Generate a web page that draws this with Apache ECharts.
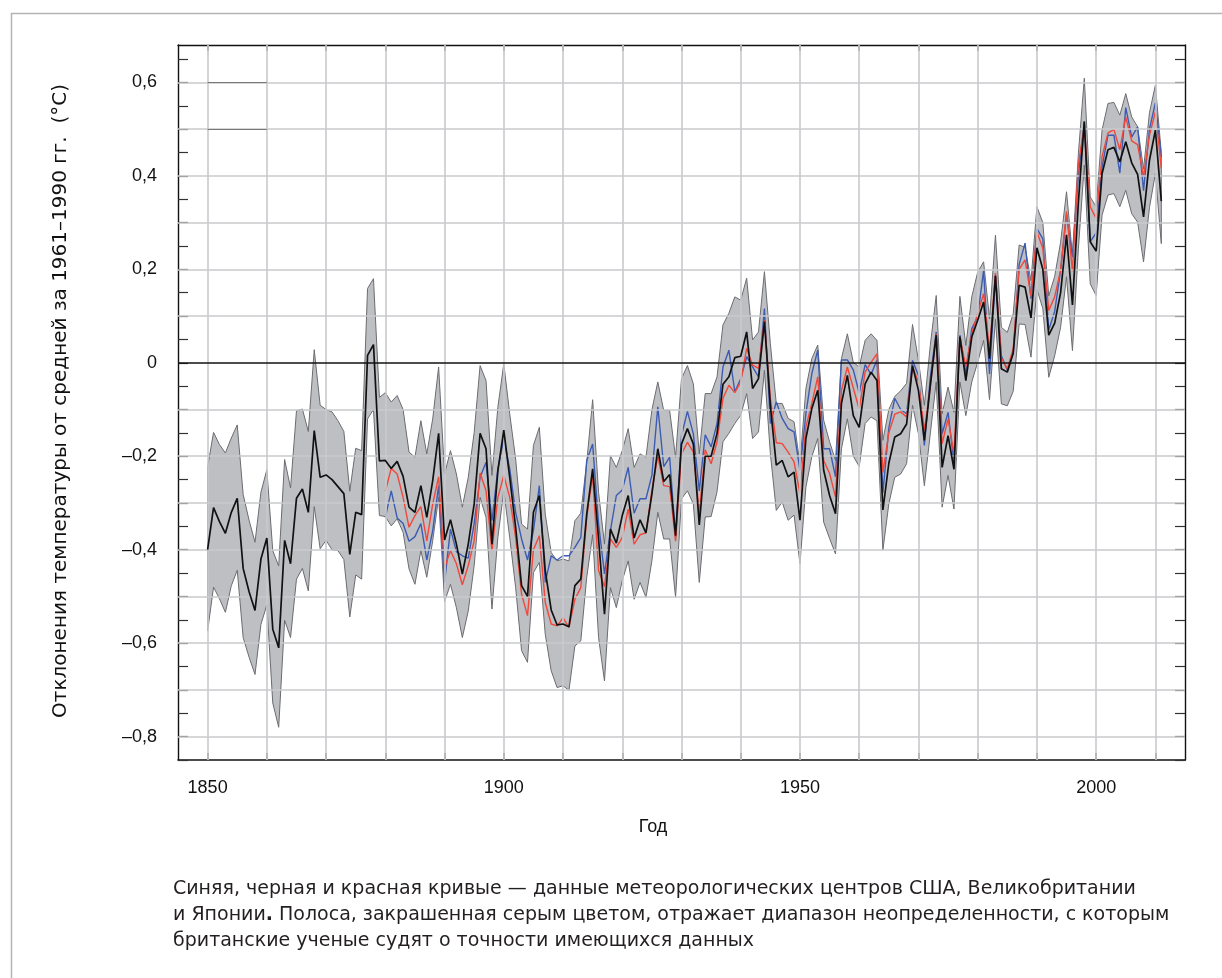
<!DOCTYPE html>
<html>
<head>
<meta charset="utf-8">
<script src="https://cdn.jsdelivr.net/npm/echarts@6/dist/echarts.min.js"></script>
<style>
html,body{margin:0;padding:0;background:#fff;}
#chart{width:1222px;height:978px;}
</style>
</head>
<body>
<div id="chart"></div>
<script>
// ---------- DATA ----------
const startYear = 1850;      // first year of UK (black) series and band
const jpUsStartYear = 1880;  // first year of red and blue series

// UK (black) anomaly, 1850–2011
const ukBlack = [
-0.40,-0.31,-0.34,-0.365,-0.32,-0.29,-0.44,-0.49,-0.53,-0.42,
-0.375,-0.57,-0.61,-0.38,-0.43,-0.29,-0.27,-0.32,-0.145,-0.245,
-0.24,-0.25,-0.265,-0.28,-0.41,-0.32,-0.325,0.016,0.039,-0.21,
-0.209,-0.226,-0.211,-0.243,-0.309,-0.32,-0.263,-0.331,-0.252,-0.151,
-0.379,-0.336,-0.388,-0.452,-0.388,-0.302,-0.151,-0.184,-0.388,-0.231,
-0.144,-0.245,-0.352,-0.477,-0.50,-0.32,-0.284,-0.445,-0.529,-0.561,
-0.559,-0.565,-0.477,-0.463,-0.324,-0.227,-0.377,-0.538,-0.356,-0.386,
-0.327,-0.284,-0.375,-0.336,-0.364,-0.281,-0.184,-0.254,-0.239,-0.37,
-0.174,-0.141,-0.174,-0.347,-0.20,-0.20,-0.151,-0.046,-0.03,0.011,
0.014,0.066,-0.055,-0.034,0.088,-0.091,-0.219,-0.209,-0.244,-0.234,
-0.337,-0.162,-0.098,-0.059,-0.23,-0.284,-0.323,-0.087,-0.027,-0.113,
-0.138,-0.045,-0.02,-0.038,-0.315,-0.215,-0.159,-0.152,-0.131,-0.006,
-0.059,-0.166,-0.049,0.059,-0.224,-0.156,-0.228,0.056,-0.038,0.055,
0.091,0.13,0.009,0.186,-0.013,-0.02,0.021,0.166,0.162,0.096,
0.246,0.20,0.059,0.085,0.15,0.274,0.124,0.344,0.516,0.259,
0.239,0.405,0.456,0.461,0.43,0.473,0.428,0.403,0.312,0.433,
0.498,0.346
];

// Uncertainty band (upper edge), 1850–2011
const bandHigh = [
-0.223,-0.149,-0.175,-0.193,-0.161,-0.133,-0.282,-0.337,-0.384,-0.277,
-0.229,-0.402,-0.435,-0.207,-0.268,-0.103,-0.099,-0.147,0.028,-0.091,
-0.10,-0.105,-0.124,-0.147,-0.275,-0.183,-0.188,0.159,0.18,-0.074,
-0.064,-0.084,-0.07,-0.10,-0.191,-0.202,-0.124,-0.195,-0.12,-0.009,
-0.238,-0.188,-0.238,-0.309,-0.245,-0.149,-0.006,-0.038,-0.241,-0.095,
-0.002,-0.109,-0.206,-0.345,-0.356,-0.177,-0.138,-0.324,-0.406,-0.424,
-0.42,-0.424,-0.338,-0.322,-0.213,-0.079,-0.277,-0.388,-0.199,-0.224,
-0.188,-0.141,-0.224,-0.195,-0.202,-0.101,-0.041,-0.102,-0.102,-0.202,
-0.034,-0.006,-0.045,-0.195,-0.066,-0.066,-0.03,0.081,0.106,0.141,
0.134,0.181,0.049,0.066,0.195,0.041,-0.087,-0.087,-0.119,-0.126,
-0.216,-0.055,0.009,0.038,-0.123,-0.169,-0.209,0.009,0.062,0.001,
-0.009,0.048,0.062,0.048,-0.166,-0.10,-0.072,-0.06,-0.044,0.082,
0.005,-0.091,0.037,0.144,-0.109,-0.052,-0.106,0.142,0.037,0.141,
0.194,0.216,0.094,0.273,0.076,0.065,0.105,0.252,0.247,0.176,
0.334,0.30,0.143,0.185,0.258,0.366,0.23,0.448,0.609,0.355,
0.334,0.498,0.555,0.557,0.53,0.576,0.526,0.505,0.415,0.535,
0.594,0.45
];

// Uncertainty band (lower edge), 1850–2011
const bandLow = [
-0.574,-0.48,-0.505,-0.534,-0.477,-0.444,-0.588,-0.63,-0.667,-0.56,
-0.518,-0.728,-0.78,-0.551,-0.588,-0.463,-0.44,-0.488,-0.308,-0.398,
-0.38,-0.40,-0.402,-0.421,-0.544,-0.454,-0.463,-0.12,-0.10,-0.327,
-0.329,-0.349,-0.334,-0.363,-0.441,-0.474,-0.402,-0.459,-0.381,-0.288,
-0.511,-0.474,-0.524,-0.588,-0.531,-0.434,-0.288,-0.331,-0.527,-0.374,
-0.274,-0.374,-0.481,-0.616,-0.641,-0.449,-0.427,-0.581,-0.659,-0.695,
-0.691,-0.701,-0.606,-0.595,-0.459,-0.368,-0.588,-0.681,-0.481,-0.524,
-0.466,-0.424,-0.506,-0.47,-0.502,-0.424,-0.32,-0.377,-0.377,-0.502,
-0.291,-0.274,-0.302,-0.47,-0.33,-0.329,-0.276,-0.169,-0.151,-0.13,
-0.112,-0.066,-0.162,-0.148,-0.016,-0.194,-0.316,-0.298,-0.337,-0.326,
-0.43,-0.266,-0.201,-0.162,-0.341,-0.376,-0.409,-0.184,-0.12,-0.20,
-0.222,-0.13,-0.116,-0.124,-0.401,-0.302,-0.245,-0.238,-0.216,-0.091,
-0.152,-0.263,-0.152,-0.041,-0.309,-0.241,-0.313,-0.041,-0.113,-0.041,
0.001,0.048,-0.079,0.093,-0.088,-0.092,-0.061,0.083,0.082,0.012,
0.157,0.116,-0.031,0.015,0.076,0.184,0.026,0.244,0.423,0.169,
0.144,0.316,0.359,0.362,0.334,0.369,0.319,0.301,0.216,0.332,
0.405,0.255
];

// Japan (red) anomaly, 1880–2011
const jpRed = [
-0.275,-0.226,-0.238,-0.288,-0.352,-0.327,-0.308,-0.381,-0.302,-0.244,
-0.438,-0.402,-0.43,-0.475,-0.434,-0.381,-0.236,-0.274,-0.402,-0.288,
-0.241,-0.288,-0.374,-0.495,-0.541,-0.40,-0.37,-0.513,-0.559,-0.563,
-0.546,-0.566,-0.506,-0.481,-0.331,-0.241,-0.445,-0.479,-0.377,-0.395,
-0.374,-0.313,-0.388,-0.368,-0.364,-0.274,-0.199,-0.263,-0.265,-0.382,
-0.195,-0.17,-0.191,-0.322,-0.186,-0.216,-0.169,-0.076,-0.048,-0.064,
-0.041,0.031,-0.005,-0.012,0.091,-0.076,-0.171,-0.173,-0.191,-0.212,
-0.28,-0.137,-0.087,-0.03,-0.209,-0.237,-0.287,-0.059,-0.009,-0.054,
-0.099,-0.02,0.001,0.019,-0.235,-0.15,-0.11,-0.105,-0.116,-0.009,
-0.041,-0.145,-0.052,0.062,-0.173,-0.12,-0.195,0.055,-0.009,0.062,
0.105,0.148,0.026,0.192,0.01,-0.013,0.03,0.20,0.22,0.142,
0.28,0.245,0.112,0.141,0.198,0.324,0.196,0.426,0.505,0.334,
0.309,0.441,0.492,0.499,0.456,0.526,0.475,0.467,0.398,0.487,
0.537,0.416
];

// USA (blue) anomaly, 1880–2011
const usBlue = [
-0.331,-0.274,-0.332,-0.344,-0.382,-0.372,-0.344,-0.422,-0.359,-0.263,
-0.47,-0.356,-0.404,-0.413,-0.418,-0.344,-0.245,-0.213,-0.338,-0.227,
-0.163,-0.227,-0.32,-0.377,-0.422,-0.359,-0.263,-0.47,-0.413,-0.422,
-0.413,-0.413,-0.395,-0.374,-0.209,-0.174,-0.345,-0.452,-0.359,-0.284,
-0.272,-0.224,-0.322,-0.291,-0.291,-0.241,-0.094,-0.222,-0.202,-0.374,
-0.156,-0.104,-0.152,-0.274,-0.154,-0.18,-0.13,-0.009,0.027,-0.062,
-0.034,0.013,-0.009,-0.03,0.116,-0.13,-0.084,-0.119,-0.141,-0.148,
-0.23,-0.109,-0.023,0.027,-0.184,-0.184,-0.244,0.006,0.006,-0.015,
-0.065,-0.004,-0.025,0.006,-0.278,-0.14,-0.076,-0.10,-0.109,0.005,
-0.027,-0.177,-0.031,0.066,-0.152,-0.106,-0.216,0.059,-0.024,0.073,
0.098,0.198,-0.024,0.187,0.015,-0.016,0.02,0.21,0.256,0.137,
0.287,0.265,0.07,0.11,0.198,0.318,0.226,0.401,0.516,0.259,
0.278,0.419,0.487,0.487,0.406,0.546,0.483,0.505,0.368,0.50,
0.556,0.44
];

// Axis tick / grid values
const xLabelYears = [1850, 1900, 1950, 2000];
const xGridYears = [1850,1860,1870,1880,1890,1900,1910,1920,1930,1940,1950,1960,1970,1980,1990,2000,2010];
const yLabelValues = [-0.8,-0.6,-0.4,-0.2,0,0.2,0.4,0.6];
const yGridValues = [-0.8,-0.7,-0.6,-0.5,-0.4,-0.3,-0.2,-0.1,0.1,0.2,0.3,0.4,0.5,0.6];
const yTickValues = [-0.85,-0.8,-0.75,-0.7,-0.65,-0.6,-0.55,-0.5,-0.45,-0.4,-0.35,-0.3,-0.25,-0.2,-0.15,-0.1,-0.05,0,0.05,0.1,0.15,0.2,0.25,0.3,0.35,0.4,0.45,0.5,0.55,0.6,0.65];

const yTitle = 'Отклонения температуры от средней за 1961–1990 гг.  (°C)';
const xTitle = 'Год';
const captionLines = [
  'Синяя, черная и красная кривые — данные метеорологических центров США, Великобритании',
  'и Японии{b|.} Полоса, закрашенная серым цветом, отражает диапазон неопределенности, с которым',
  'британские ученые судят о точности имеющихся данных'
];

// ---------- BUILD ----------
const toPairs = (arr, y0) => arr.map((v, i) => [y0 + i, v]);
const FONT = '"Liberation Sans", Arial, Helvetica, sans-serif';
const WIDE = '"DejaVu Sans", Verdana, sans-serif';
const gridColor = '#c9cacd';

const chart = echarts.init(document.getElementById('chart'), null, {renderer: 'canvas'});

const fmtY = v => {
  const r = Math.round(v * 10) / 10;
  if (r === 0) return '0';
  const s = Math.abs(r).toFixed(1).replace('.', ',');
  return (r < 0 ? '–' : '') + s;
};

const noMark = {symbol: ['none', 'none'], silent: true, animation: false, label: {show: false}, emphasis: {disabled: true}};

// band polygon: upper edge forward, lower edge backward
const bandData = bandHigh.map((v, i) => [startYear + i, v, bandLow[i]]);
function renderBand(params, api) {
  if (params.dataIndex !== 0) return null;
  const pts = [];
  for (let i = 0; i < bandData.length; i++) pts.push(api.coord([bandData[i][0], bandData[i][1]]));
  for (let i = bandData.length - 1; i >= 0; i--) pts.push(api.coord([bandData[i][0], bandData[i][2]]));
  return {
    type: 'polygon',
    shape: {points: pts},
    style: {fill: '#bdbfc3', stroke: '#6a6c70', lineWidth: 1}
  };
}

const option = {
  animation: false,
  grid: {left: 178, top: 45, right: 37, bottom: 218, containLabel: false},
  xAxis: [
    {
      type: 'value', min: 1845, max: 2015, position: 'bottom',
      axisLine: {show: true, onZero: false, lineStyle: {color: '#111', width: 1.6}},
      axisTick: {show: true, inside: true, length: 7, customValues: xGridYears, lineStyle: {color: '#444', width: 1.5}},
      axisLabel: {show: true, customValues: xLabelYears, margin: 19, fontSize: 18, color: '#111', fontFamily: FONT, formatter: v => String(v)},
      splitLine: {show: false}
    },
    {
      type: 'value', min: 1845, max: 2015, position: 'top',
      axisLine: {show: true, onZero: false, lineStyle: {color: '#111', width: 1.4}},
      axisTick: {show: true, inside: true, length: 6, customValues: xGridYears, lineStyle: {color: '#444', width: 1.5}},
      axisLabel: {show: false},
      splitLine: {show: false}
    }
  ],
  yAxis: [
    {
      type: 'value', min: -0.85, max: 0.68, position: 'left',
      axisLine: {show: true, onZero: false, lineStyle: {color: '#111', width: 1.4}},
      axisTick: {show: true, inside: true, length: 10, customValues: yTickValues, lineStyle: {color: '#333', width: 1.2}},
      axisLabel: {show: true, customValues: yLabelValues, margin: 21, fontSize: 18, color: '#111', fontFamily: FONT, formatter: fmtY},
      splitLine: {show: false}
    },
    {
      type: 'value', min: -0.85, max: 0.68, position: 'right',
      axisLine: {show: true, onZero: false, lineStyle: {color: '#111', width: 1.4}},
      axisTick: {show: true, inside: true, length: 10, customValues: yTickValues, lineStyle: {color: '#333', width: 1.2}},
      axisLabel: {show: false},
      splitLine: {show: false}
    }
  ],
  series: [
    {
      name: 'grid', type: 'line', data: [], z: 0, silent: true,
      markLine: Object.assign({}, noMark, {
        lineStyle: {color: gridColor, width: 1.6, type: 'solid'},
        data: xGridYears.map(v => ({xAxis: v})).concat(yGridValues.map(v => ({yAxis: v})))
          .concat([
            [{coord: [1850, 0.6], lineStyle: {color: '#777', width: 1.2}}, {coord: [1860, 0.6]}],
            [{coord: [1850, 0.5], lineStyle: {color: '#777', width: 1.2}}, {coord: [1860, 0.5]}]
          ])
      })
    },
    {
      name: 'band', type: 'custom', z: 1, silent: true,
      renderItem: renderBand,
      encode: {x: 0, y: [1, 2]},
      data: bandData
    },
    {
      name: 'zero', type: 'line', data: [], z: 2, silent: true,
      markLine: Object.assign({}, noMark, {lineStyle: {color: '#111', width: 1.5, type: 'solid'}, data: [{yAxis: 0}]})
    },
    {
      name: 'США', type: 'line', z: 3, data: toPairs(usBlue, jpUsStartYear), showSymbol: false, symbol: 'none',
      lineStyle: {color: '#3c5cb4', width: 1.4}
    },
    {
      name: 'Япония', type: 'line', z: 4, data: toPairs(jpRed, jpUsStartYear), showSymbol: false, symbol: 'none',
      lineStyle: {color: '#f2473a', width: 1.4}
    },
    {
      name: 'Великобритания', type: 'line', z: 5, data: toPairs(ukBlack, startYear), showSymbol: false, symbol: 'none',
      lineStyle: {color: '#111', width: 1.7}
    }
  ],
  graphic: [
    {type: 'rect', left: 9, top: 11, shape: {x: 0, y: 0, width: 1400, height: 1200},
     style: {fill: 'none', stroke: '#b4b4b4', lineWidth: 1.5}, silent: true, z: -10},
    {type: 'text', x: 61, y: 401, rotation: Math.PI / 2, silent: true,
     style: {text: yTitle, fontSize: 20, fontFamily: WIDE, fill: '#111', align: 'center', verticalAlign: 'middle'}},
    {type: 'text', x: 653, y: 827, silent: true,
     style: {text: xTitle, fontSize: 18, fontFamily: FONT, fill: '#111', align: 'center', verticalAlign: 'middle'}},
    {type: 'text', x: 173, y: 876, silent: true,
     style: {text: captionLines.join('\n'), fontSize: 19, lineHeight: 26, fontFamily: WIDE, fill: '#231f20',
             rich: {b: {fontWeight: 'bold', fontSize: 19, fontFamily: WIDE, fill: '#231f20'}}}}
  ]
};
chart.setOption(option);
</script>
</body>
</html>
